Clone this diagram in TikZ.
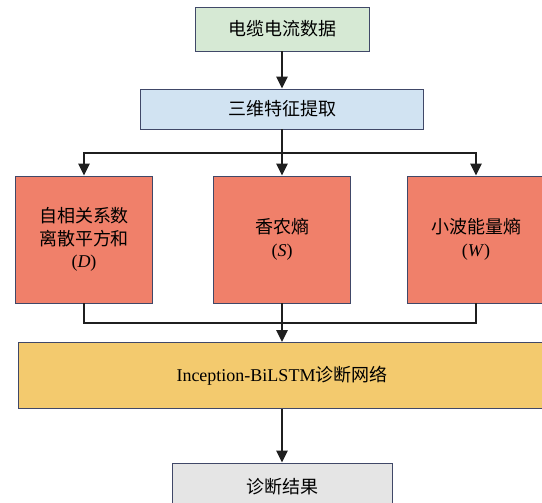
\documentclass[tikz,border=0pt]{standalone}
\usepackage{fontspec}
\setmainfont{Liberation Serif}
\newfontfamily\cjk{Noto Sans CJK SC}
\usetikzlibrary{arrows.meta}
\definecolor{datagreen}{RGB}{214,233,212}
\definecolor{featblue}{RGB}{209,227,242}
\definecolor{entred}{RGB}{240,128,106}
\definecolor{netyellow}{RGB}{243,202,110}
\definecolor{resgray}{RGB}{229,229,229}
\definecolor{edge}{RGB}{64,72,104}
\tikzset{
  box/.style={draw=edge,line width=0.9pt,inner sep=0pt,align=center,
    font=\fontsize{18}{22.5}\selectfont},
  link/.style={line width=2.9pt,black!88},
  arr/.style={link,-{Triangle[length=12pt,width=11pt]}}
}

\begin{document}
\begin{tikzpicture}[x=1pt,y=-1pt]
\useasboundingbox (0,0) rectangle (542,503);
\clip (0,0) rectangle (542,503);
\node[box,fill=datagreen,minimum width=174pt,minimum height=44pt] (data) at (282,29) {\cjk 电缆电流数据};
\node[box,fill=featblue,minimum width=283pt,minimum height=40pt] (feat) at (282,109) {\cjk 三维特征提取};
\node[box,fill=entred,minimum width=137pt,minimum height=127pt] (fd) at (84,239.5) {{\cjk 自相关系数}\\{\cjk 离散平方和}\\(\textit{D})};
\node[box,fill=entred,minimum width=137pt,minimum height=127pt] (fs) at (282,239.5) {{\cjk 香农熵}\\(\textit{S})};
\node[box,fill=entred,minimum width=137pt,minimum height=127pt] (fw) at (476,239.5) {{\cjk 小波能量熵}\\(\textit{W})};
\node[box,fill=netyellow,minimum width=528pt,minimum height=66pt] (net) at (282,375.5) {Inception-BiLSTM{\cjk 诊断网络}};
\node[box,fill=resgray,minimum width=220pt,minimum height=48pt] (res) at (282,487) {\cjk 诊断结果};
\coordinate (split) at (282,153);
\coordinate (join) at (282,323);
\draw[arr] (data) -- (feat);
\draw[link] (feat.south) -- (split);
\draw[arr] (split) -| (fd.north);
\draw[arr] (split) -- (fs.north);
\draw[arr] (split) -| (fw.north);
\draw[link] (fd.south) |- (join);
\draw[link] (fw.south) |- (join);
\draw[arr] (fs.south) -- (net.north);
\draw[arr] (net) -- (res);
\end{tikzpicture}
\end{document}
